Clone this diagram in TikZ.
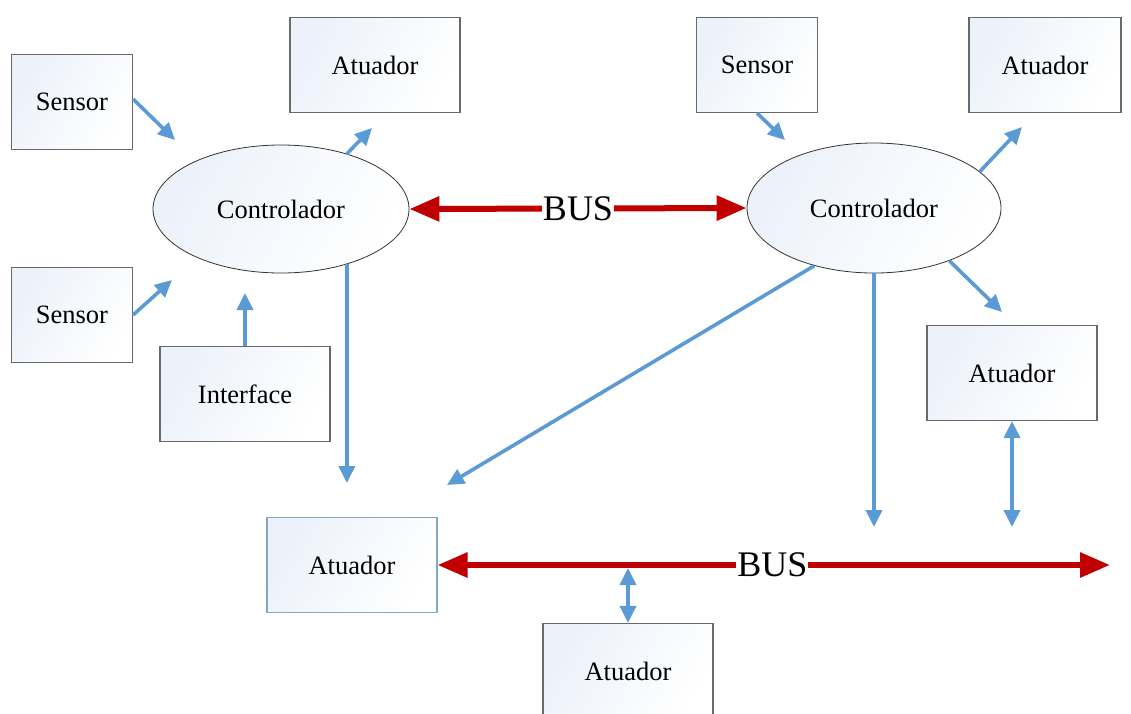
\documentclass[tikz,border=0pt]{standalone}
\usepackage{fontspec}
\setmainfont{Liberation Serif}
\usetikzlibrary{arrows.meta,shapes.geometric}

\definecolor{linkblue}{RGB}{91,155,213}
\definecolor{busred}{RGB}{192,0,0}
\definecolor{boxtint}{RGB}{236,241,250}
\definecolor{boxedge}{RGB}{105,105,105}
\definecolor{softedge}{RGB}{130,170,195}

\tikzset{
  unit/.style={draw=boxedge, line width=1.1pt, left color=boxtint, right color=white,
    shading angle=60, minimum width=170pt, minimum height=95pt,
    font=\fontsize{26.5}{30}\selectfont, inner sep=0pt},
  smallunit/.style={unit, minimum width=121pt},
  ctrl/.style={ellipse, draw=black!80, line width=0.8pt, left color=boxtint, right color=white,
    shading angle=60, minimum width=256pt, minimum height=128pt,
    font=\fontsize{26.5}{30}\selectfont, inner sep=0pt},
  link/.style={draw=linkblue, line width=3.6pt, -{Triangle[length=17pt,width=16pt]}},
  duplex/.style={link, {Triangle[length=17pt,width=16pt]}-{Triangle[length=17pt,width=16pt]}},
  bus/.style={draw=busred, line width=6pt,
    {Triangle[length=30pt,width=24pt]}-{Triangle[length=30pt,width=24pt]}},
  buslabel/.style={fill=white, inner xsep=1pt, inner ysep=0pt, font=\fontsize{36}{40}\selectfont},
}

\begin{document}
\begin{tikzpicture}[x=1pt, y=-1pt]
\useasboundingbox (0,0) rectangle (1131,713);
\clip (0,0) rectangle (1131,713);

% left cluster
\node[smallunit] (s1) at (72,102) {Sensor};
\node[unit] (a1) at (375,65) {Atuador};
\node[smallunit] (s2) at (72,315) {Sensor};
\node[unit] (if) at (245,394) {Interface};
\node[ctrl] (cl) at (281,209) {Controlador};

% right cluster
\node[smallunit] (s3) at (757,65) {Sensor};
\node[unit, minimum width=152pt] (a2) at (1045,65) {Atuador};
\node[ctrl, minimum width=254pt, minimum height=130pt] (cr) at (874,208) {Controlador};
\node[unit] (a3) at (1012,373) {Atuador};

% actuators on the field bus
\node[unit, draw=softedge] (a4) at (352,565) {Atuador};
\node[unit] (a5) at (628,671) {Atuador};

% free ends of the links
\coordinate (p1) at (175,140);
\coordinate (p2) at (372,128);
\coordinate (p3) at (172,280);
\coordinate (p4) at (245,293);
\coordinate (p5) at (346,483);
\coordinate (p6) at (785,140);
\coordinate (p7) at (1022,127);
\coordinate (p8) at (1002,312);
\coordinate (p9) at (447,485);
\coordinate (p10) at (874,527);
\coordinate (p11) at (1012,527);
\coordinate (p12) at (628,568);
\coordinate (busend) at (1110,565);

% links
\draw[link] (s1.east) ++(0,-3) -- (p1);
\draw[link] (cl.40) -- (p2);
\draw[link] (s2.east) -- (p3);
\draw[link] (if.north) -- (p4);
\draw[link] (cl.-40) -- (cl.-40 |- p5);
\draw[link] (s3.south) -- (p6);
\draw[link] (cr.19) -- (p7);
\draw[link] (cr.-35) -- (p8);
\draw[link] (cr.224) -- (p9);
\draw[link] (cr.south) -- (p10);
\draw[duplex] (a3.south) -- (p11);
\draw[duplex] (p12) -- (a5.north);

% buses
\draw[bus] (cl.east) -- node[buslabel] (bus1) {BUS} (cr.west);
\draw[bus] (a4.east) -- node[buslabel, pos=0.498] (bus2) {BUS} (busend);
\end{tikzpicture}
\end{document}
